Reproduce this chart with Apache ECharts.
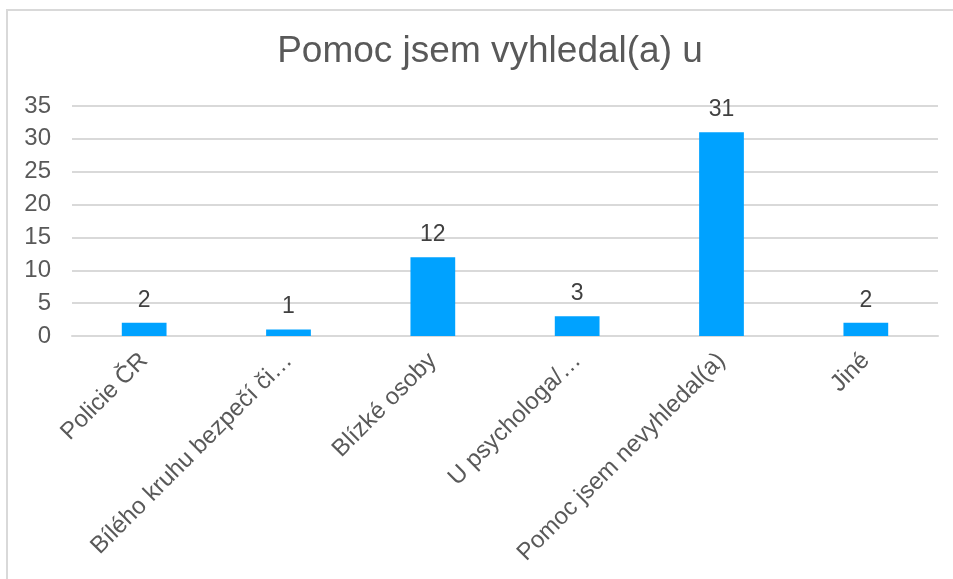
<!DOCTYPE html>
<html>
<head>
<meta charset="utf-8">
<script src="https://cdn.jsdelivr.net/npm/echarts@6/dist/echarts.min.js"></script>
<style>
  html, body { margin: 0; padding: 0; background: #fff; overflow: hidden; }
  #frame {
    position: absolute; left: 6px; top: 9px; width: 1000px; height: 700px;
    border: 2px solid #d9d9d9; box-sizing: border-box;
  }
  #chart { position: absolute; left: 0; top: 0; width: 953px; height: 579px; }
</style>
</head>
<body>
<div id="frame"></div>
<div id="chart"></div>
<script>
  // data
  var categories = ['Policie ČR', 'Bílého kruhu bezpečí či…', 'Blízké osoby',
    'U psychologa/…', 'Pomoc jsem nevyhledal(a)', 'Jiné']
  var counts = [2, 1, 12, 3, 31, 2]
  var chartTitle = 'Pomoc jsem vyhledal(a) u'

  var font = '"Liberation Sans", Arial, sans-serif'
  var grey = '#595959'

  var chart = echarts.init(document.getElementById('chart'))
  chart.setOption({
    animation: false,
    title: {
      text: chartTitle,
      left: 485,
      top: 28,
      textAlign: 'center',
      textStyle: {
        color: grey,
        fontFamily: font,
        fontSize: 37,
        fontWeight: 'normal'
      }
    },
    grid: {
      left: 72,
      right: 15,
      top: 106,
      bottom: 243
    },
    xAxis: {
      type: 'category',
      data: categories,
      axisLine: { lineStyle: { color: '#d9d9d9', width: 2 } },
      axisTick: { show: false },
      axisLabel: {
        rotate: 45,
        interval: 0,
        margin: 21,
        color: grey,
        fontFamily: font,
        fontSize: 24
      }
    },
    yAxis: {
      type: 'value',
      min: 0,
      max: 35,
      interval: 5,
      axisLine: { show: false },
      axisTick: { show: false },
      splitLine: { lineStyle: { color: '#d9d9d9', width: 2 } },
      axisLabel: {
        margin: 21,
        color: grey,
        fontFamily: font,
        fontSize: 24
      }
    },
    series: [{
      type: 'bar',
      data: counts,
      barWidth: '31%',
      itemStyle: { color: '#00a2ff' },
      label: {
        show: true,
        position: 'top',
        distance: 11,
        color: '#404040',
        fontFamily: font,
        fontSize: 23
      }
    }]
  })
</script>
</body>
</html>
